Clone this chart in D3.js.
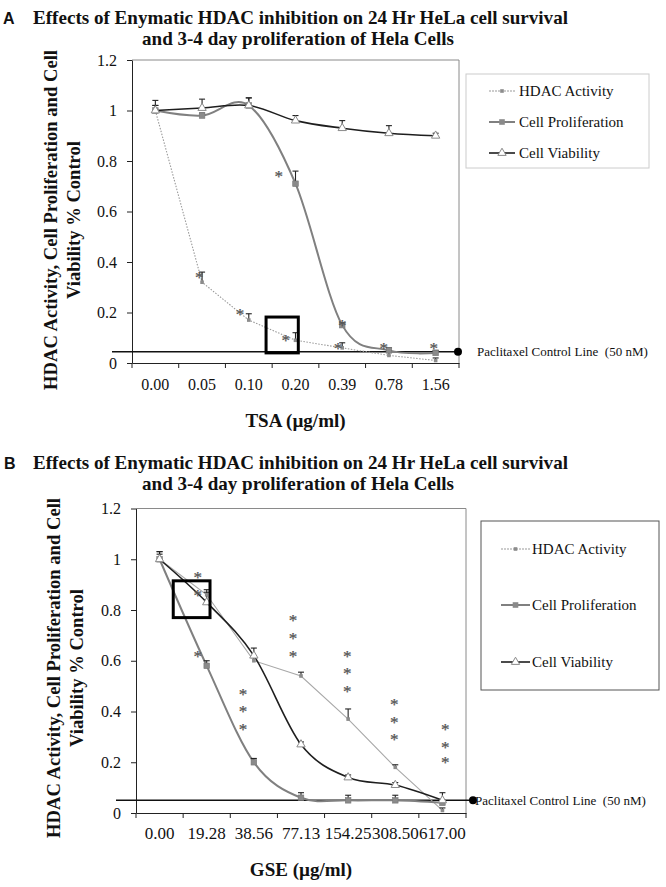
<!DOCTYPE html>
<html><head><meta charset="utf-8">
<script src="https://cdn.jsdelivr.net/npm/d3@7"></script>
<style>
body{margin:0;background:#fff}
svg{display:block;font-family:"Liberation Serif","Times New Roman",serif}
</style>
</head><body>
<svg id="c" width="666" height="887"></svg>
<script>
// ---------- DATA ----------
const titleLine1 = "Effects of Enymatic HDAC inhibition on 24 Hr HeLa cell survival";
const titleLine2 = "and 3-4 day proliferation of Hela Cells";
const yLabel1 = "HDAC Activity, Cell Proliferation and Cell";
const yLabel2 = "Viability % Control";
const seriesNames = ["HDAC Activity", "Cell Proliferation", "Cell Viability"];
const pacLabel = "Paclitaxel Control Line  (50 nM)";
const yTicks = [0, 0.2, 0.4, 0.6, 0.8, 1.0, 1.2];
const yTickLabels = ["0", "0.2", "0.4", "0.6", "0.8", "1", "1.2"];

// Panel A (TSA)
const catsA = ["0.00", "0.05", "0.10", "0.20", "0.39", "0.78", "1.56"];
const hdacA = [1.00, 0.32, 0.17, 0.09, 0.06, 0.03, 0.01];
const hdacErrA = [0.02, 0.04, 0.025, 0.03, 0.02, 0.02, 0.01];
const prolA = [1.00, 0.98, 1.02, 0.71, 0.15, 0.05, 0.04];
const prolErrA = [0.02, 0.01, 0.03, 0.05, 0.01, 0.01, 0.01];
const viabA = [1.00, 1.01, 1.02, 0.96, 0.93, 0.91, 0.90];
const viabErrA = [0.04, 0.035, 0.03, 0.02, 0.03, 0.03, 0.01];
const pacA = 0.045;
const starsA = [
  {cat: "0.05", vals: [0.35], dx: -0.06},
  {cat: "0.10", vals: [0.205], dx: -0.19},
  {cat: "0.20", vals: [0.10], dx: -0.21},
  {cat: "0.20", vals: [0.75], dx: -0.36},
  {cat: "0.39", vals: [0.07], dx: -0.09},
  {cat: "0.39", vals: [0.16], dx: 0.0},
  {cat: "0.78", vals: [0.07], dx: -0.11},
  {cat: "1.56", vals: [0.07], dx: -0.04}
];
const boxA = {cat: "0.20", f0: -0.13, f1: 0.56, v0: 0.04, v1: 0.182};

// Panel B (GSE)
const catsB = ["0.00", "19.28", "38.56", "77.13", "154.25", "308.50", "617.00"];
const hdacB = [1.00, 0.86, 0.60, 0.54, 0.37, 0.18, 0.01];
const hdacErrB = [0.02, 0.02, 0.02, 0.015, 0.04, 0.01, 0.01];
const prolB = [1.00, 0.58, 0.20, 0.06, 0.05, 0.05, 0.04];
const prolErrB = [0.03, 0.02, 0.015, 0.02, 0.02, 0.02, 0.01];
const viabB = [1.00, 0.83, 0.62, 0.27, 0.14, 0.11, 0.05];
const viabErrB = [0.03, 0.04, 0.03, 0.01, 0.01, 0.01, 0.03];
const pacB = 0.05;
const starsB = [
  {cat: "19.28", vals: [0.94, 0.87], dx: -0.19},
  {cat: "19.28", vals: [0.63], dx: -0.19},
  {cat: "38.56", vals: [0.48, 0.41, 0.34], dx: -0.23},
  {cat: "77.13", vals: [0.77, 0.70, 0.63], dx: -0.17},
  {cat: "154.25", vals: [0.63, 0.56, 0.49], dx: -0.02},
  {cat: "308.50", vals: [0.44, 0.37, 0.30], dx: -0.02},
  {cat: "617.00", vals: [0.34, 0.27, 0.21], dx: 0.06}
];
const boxB = {cat: "19.28", f0: -0.21, f1: 0.57, v0: 0.77, v1: 0.915};

// ---------- DRAW ----------
const svg = d3.select("#c");
const SERIF = '"Liberation Serif","Times New Roman",serif';
const SANS = '"Liberation Sans",Arial,sans-serif';

function panel(o) {
  const g = svg.append("g");
  const x = d3.scaleBand().domain(o.cats).range([o.left, o.right]).padding(0);
  const y = d3.scaleLinear().domain([0, 1.2]).range([o.bottom, o.top]);
  const bw = x.bandwidth();
  const cx = c => x(c) + bw / 2;

  // panel letter + title
  g.append("text").attr("x", o.letterX).attr("y", o.titleY1)
    .style("font-family", SANS).attr("font-weight", "bold").attr("font-size", 16)
    .attr("fill", "#111").text(o.letter);
  g.append("text").attr("x", 33).attr("y", o.titleY1)
    .attr("font-weight", "bold").attr("font-size", 19).attr("fill", "#111")
    .attr("textLength", 535).attr("lengthAdjust", "spacingAndGlyphs").text(titleLine1);
  g.append("text").attr("x", 142).attr("y", o.titleY1 + 21)
    .attr("font-weight", "bold").attr("font-size", 19).attr("fill", "#111")
    .attr("textLength", 312).attr("lengthAdjust", "spacingAndGlyphs").text(titleLine2);

  // frame (top & right)
  g.append("path").attr("d", `M${o.left},${o.top}H${o.right}V${o.bottom}`)
    .attr("fill", "none").attr("stroke", "#8a8a8a").attr("stroke-width", 1);

  // y axis
  const ya = g.append("g").attr("transform", `translate(${o.left},0)`)
    .call(d3.axisLeft(y).tickValues(yTicks).tickFormat((d, i) => yTickLabels[i])
      .tickSize(5).tickSizeOuter(0).tickPadding(10));
  ya.select(".domain").attr("stroke", "#222");
  ya.selectAll(".tick line").attr("stroke", "#222");
  ya.selectAll("text").style("font-family", SERIF).attr("font-size", 16).attr("fill", "#111");

  // x axis (labels centred in bands, ticks between)
  const xa = g.append("g").attr("transform", `translate(0,${o.bottom})`)
    .call(d3.axisBottom(x).tickSize(0).tickSizeOuter(0).tickPadding(o.xPad));
  xa.select(".domain").attr("stroke", "#222");
  xa.selectAll("text").style("font-family", SERIF).attr("font-size", o.xFont).attr("fill", "#111");
  const bounds = o.cats.map(c => x(c)).concat([o.right]);
  g.append("g").selectAll("line").data(bounds).join("line")
    .attr("x1", d => d).attr("x2", d => d)
    .attr("y1", o.bottom).attr("y2", o.bottom + 5)
    .attr("stroke", "#222");

  // axis titles
  const yl = g.append("g").attr("font-weight", "bold").attr("font-size", 18).attr("fill", "#111");
  yl.append("text").attr("transform", `translate(${o.yLabX1},${o.yLabY}) rotate(-90)`)
    .attr("text-anchor", "middle").attr("textLength", 340).attr("lengthAdjust", "spacingAndGlyphs").text(yLabel1);
  yl.append("text").attr("transform", `translate(${o.yLabX2},${o.yLabY}) rotate(-90)`)
    .attr("text-anchor", "middle").attr("textLength", 158).attr("lengthAdjust", "spacingAndGlyphs").text(yLabel2);
  g.append("text").attr("x", (o.left + o.right) / 2).attr("y", o.xTitleY)
    .attr("text-anchor", "middle").attr("font-weight", "bold").attr("font-size", 19)
    .attr("fill", "#111").text(o.xTitle);

  // paclitaxel control line
  g.append("line").attr("x1", o.left - 20).attr("x2", o.right + o.pacDx)
    .attr("y1", y(o.pac)).attr("y2", y(o.pac)).attr("stroke", "#111").attr("stroke-width", 1.5);
  g.append("circle").attr("cx", o.right + o.pacDx).attr("cy", y(o.pac)).attr("r", 4).attr("fill", "#000");
  g.append("text").attr("x", o.right + o.pacDx + 4 + o.pacTextGap).attr("y", y(o.pac) + 4.5)
    .attr("font-size", 13).attr("fill", "#111").style("white-space", "pre").text(pacLabel);

  // series
  const pts = vals => o.cats.map((c, i) => [cx(c), y(vals[i])]);
  const lin = d3.line().curve(d3.curveLinear);
  const smooth = d3.line().curve(d3.curveCardinal.tension(0));

  const hp = g.append("path").attr("d", lin(pts(o.hdac))).attr("fill", "none")
    .attr("stroke", o.hdacColor).attr("stroke-width", 1.1);
  if (o.hdacDash) hp.attr("stroke-dasharray", o.hdacDash);
  g.append("path").attr("d", smooth(pts(o.prol))).attr("fill", "none")
    .attr("stroke", "#808080").attr("stroke-width", 2);
  g.append("path").attr("d", smooth(pts(o.viab))).attr("fill", "none")
    .attr("stroke", "#1e1e1e").attr("stroke-width", 1.6);

  // error bars (upper)
  function errBars(vals, errs) {
    const eg = g.append("g").attr("stroke", "#222").attr("stroke-width", 1.1);
    o.cats.forEach((c, i) => {
      const xx = cx(c), y0 = y(vals[i]), y1 = y(vals[i] + errs[i]);
      eg.append("line").attr("x1", xx).attr("x2", xx).attr("y1", y0).attr("y2", y1);
      eg.append("line").attr("x1", xx - 3).attr("x2", xx + 3).attr("y1", y1).attr("y2", y1);
    });
  }
  errBars(o.hdac, o.hdacErr);
  errBars(o.prol, o.prolErr);
  errBars(o.viab, o.viabErr);

  // markers
  g.append("g").selectAll("rect").data(pts(o.hdac)).join("rect")
    .attr("x", d => d[0] - 1.8).attr("y", d => d[1] - 1.8).attr("width", 3.6).attr("height", 3.6)
    .attr("fill", "#8c8c8c");
  g.append("g").selectAll("rect").data(pts(o.prol)).join("rect")
    .attr("x", d => d[0] - 2.8).attr("y", d => d[1] - 2.8).attr("width", 5.6).attr("height", 5.6)
    .attr("fill", "#8a8a8a").attr("stroke", "#777").attr("stroke-width", 0.6);
  const tri = d3.symbol().type(d3.symbolTriangle).size(30);
  g.append("g").selectAll("path").data(pts(o.viab)).join("path")
    .attr("transform", d => `translate(${d[0]},${d[1]})`).attr("d", tri())
    .attr("fill", "#fff").attr("stroke", "#8a8a8a").attr("stroke-width", 1);

  // significance stars (one text per stacked group)
  const sg = g.append("g").attr("font-size", 17).attr("fill", "#555")
    .attr("stroke", "#555").attr("stroke-width", 0.25)
    .attr("text-anchor", "middle");
  o.stars.forEach(s => {
    const t = sg.append("text");
    const sx = cx(s.cat) + s.dx * bw;
    s.vals.forEach(v => {
      t.append("tspan").attr("x", sx).attr("y", y(v) + 8.5).text("*");
    });
  });

  // highlight box
  g.append("rect")
    .attr("x", x(o.box.cat) + o.box.f0 * bw)
    .attr("y", y(o.box.v1))
    .attr("width", (o.box.f1 - o.box.f0) * bw)
    .attr("height", y(o.box.v0) - y(o.box.v1))
    .attr("fill", "none").attr("stroke", "#000").attr("stroke-width", 3);

  // legend
  const L = o.legend;
  g.append("rect").attr("x", L.x0).attr("y", L.y0).attr("width", L.x1 - L.x0).attr("height", L.y1 - L.y0)
    .attr("fill", "#fff").attr("stroke", L.stroke).attr("stroke-width", 1);
  seriesNames.forEach((name, i) => {
    const yy = L.rows[i];
    const ln = g.append("line").attr("x1", L.s0).attr("x2", L.s1).attr("y1", yy).attr("y2", yy);
    const mx = (L.s0 + L.s1) / 2;
    if (i === 0) {
      ln.attr("stroke", "#9a9a9a").attr("stroke-width", 1.1).attr("stroke-dasharray", "2,1");
      g.append("rect").attr("x", mx - 1.8).attr("y", yy - 1.8).attr("width", 3.6).attr("height", 3.6).attr("fill", "#8c8c8c");
    } else if (i === 1) {
      ln.attr("stroke", "#808080").attr("stroke-width", 2);
      g.append("rect").attr("x", mx - 2.8).attr("y", yy - 2.8).attr("width", 5.6).attr("height", 5.6).attr("fill", "#8a8a8a");
    } else {
      ln.attr("stroke", "#1e1e1e").attr("stroke-width", 1.6);
      g.append("path").attr("transform", `translate(${mx},${yy})`).attr("d", tri())
        .attr("fill", "#fff").attr("stroke", "#8a8a8a");
    }
    g.append("text").attr("x", L.tx).attr("y", yy + 5).attr("font-size", 15).attr("fill", "#111").text(name);
  });
}

panel({
  letter: "A", letterX: 3, titleY1: 24,
  cats: catsA, left: 132, right: 459, top: 60, bottom: 363,
  hdac: hdacA, hdacErr: hdacErrA, prol: prolA, prolErr: prolErrA, viab: viabA, viabErr: viabErrA,
  hdacDash: "1.5,1.5", hdacColor: "#9a9a9a",
  pac: pacA, pacDx: -1, pacTextGap: 15,
  stars: starsA, box: boxA,
  xPad: 15.6, xFont: 16, xTitle: "TSA (µg/ml)", xTitleY: 427,
  yLabX1: 57, yLabX2: 80, yLabY: 220,
  legend: {x0: 466, y0: 74, x1: 649, y1: 168, stroke: "#cccccc", rows: [91, 122, 153], s0: 489, s1: 515, tx: 519}
});

panel({
  letter: "B", letterX: 4, titleY1: 469,
  cats: catsB, left: 136, right: 466, top: 508.5, bottom: 813,
  hdac: hdacB, hdacErr: hdacErrB, prol: prolB, prolErr: prolErrB, viab: viabB, viabErr: viabErrB,
  hdacDash: null, hdacColor: "#a8a8a8",
  pac: pacB, pacDx: 7, pacTextGap: -2,
  stars: starsB, box: boxB,
  xPad: 13.6, xFont: 17, xTitle: "GSE (µg/ml)", xTitleY: 876,
  yLabX1: 60, yLabX2: 83, yLabY: 668,
  legend: {x0: 481, y0: 521, x1: 659, y1: 690, stroke: "#555555", rows: [549, 605, 662], s0: 501, s1: 530, tx: 532}
});
</script>
</body></html>
